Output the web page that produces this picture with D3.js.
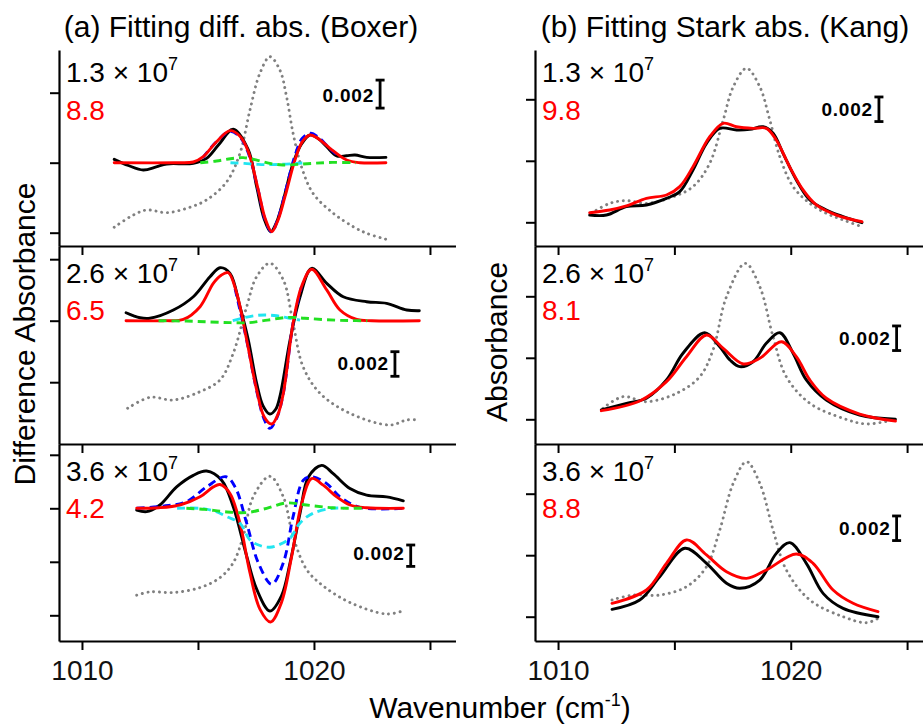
<!DOCTYPE html>
<html>
<head>
<meta charset="utf-8">
<script src="https://cdn.jsdelivr.net/npm/d3@7"></script>
<style>
  body { margin: 0; background: #fff; }
  svg { display: block; font-family: "Liberation Sans", Arial, sans-serif; }
</style>
</head>
<body>
<svg id="chart" width="923" height="724"></svg>
<script>
// ---------- data (wavenumber in cm^-1, signal in units of 0.001) ----------
const xTicks = [1010, 1015, 1020, 1025];
const xTickLabels = [1010, 1020];
const diffTicks13 = [-5, 0, 5];
const diffTicks26 = [-5, 0, 5];
const diffTicks36 = [-10, -5, 0, 5];
const absTicks = [0, 5, 10];

const fieldLabels = ["1.3 \u00d7 10", "2.6 \u00d7 10", "3.6 \u00d7 10"];
const fieldExponent = "7";
const boxerFitLabels = ["8.8", "6.5", "4.2"];
const kangFitLabels = ["9.8", "8.1", "8.8"];
const scaleBarValue = 2;        // 0.002
const scaleBarText = "0.002";

// (a) difference absorbance, field 1.3e7
const diffExp13 = [[1011.39,0.24],[1012.0,-0.2],[1012.64,-0.52],[1013.2,-0.3],[1013.65,-0.09],[1014.8,-0.04],[1015.37,0.31],[1015.9,1.3],[1016.52,2.39],[1017.17,0.91],[1017.53,-1.71],[1017.85,-4.0],[1018.13,-4.93],[1018.4,-4.2],[1018.68,-2.66],[1019.1,-0.04],[1019.45,1.3],[1019.83,1.98],[1020.2,1.7],[1020.55,1.14],[1020.98,0.48],[1021.4,0.5],[1021.77,0.55],[1022.27,0.38],[1023.1,0.38]];
const diffFit13 = [[1011.39,0],[1014.0,0],[1014.8,0.05],[1015.23,0.43],[1015.8,1.5],[1016.38,2.29],[1016.8,1.9],[1017.17,0.79],[1017.6,-1.95],[1017.9,-4.0],[1018.18,-4.93],[1018.45,-4.1],[1018.75,-2.43],[1019.18,0.19],[1019.5,1.5],[1019.83,1.98],[1020.2,1.7],[1020.69,1.03],[1021.41,0.19],[1021.98,0],[1023.1,0]];
const diffD2_13 = [[1015.2,0.35],[1015.8,1.5],[1016.38,2.25],[1016.8,1.85],[1017.17,0.7],[1017.6,-2.0],[1017.9,-4.1],[1018.18,-4.95],[1018.45,-4.0],[1018.75,-2.2],[1019.18,0.5],[1019.5,1.75],[1019.85,2.1],[1020.2,1.8],[1020.69,1.0],[1021.0,0.55]];
const diffD1_13 = [[1015.1,0],[1015.8,0.12],[1016.4,0.28],[1016.95,0.36],[1017.5,0.2],[1018.1,-0.05],[1018.66,-0.16],[1019.3,-0.12],[1020.0,-0.04],[1020.8,0.02],[1021.8,0]];
const diffD0_13 = [[1016.4,0],[1017.0,-0.05],[1017.6,-0.12],[1018.2,-0.14],[1018.8,-0.1],[1019.5,-0.02]];
const diffAbs13 = [[1011.39,-4.61],[1012.21,-3.74],[1012.79,-3.38],[1013.65,-3.57],[1014.51,-3.26],[1015.37,-2.66],[1016.24,-1.36],[1016.81,0.67],[1017.24,3.76],[1017.67,6.39],[1018.1,7.57],[1018.53,6.62],[1018.82,4.71],[1019.1,2.1],[1019.46,-0.29],[1019.96,-2.19],[1020.83,-3.61],[1021.69,-4.57],[1022.27,-5.04],[1023.1,-5.47]];

// (a) difference absorbance, field 2.6e7
const diffExp26 = [[1011.9,0.65],[1012.5,0.24],[1012.93,0.2],[1013.94,0.87],[1014.8,1.95],[1015.52,3.58],[1015.95,4.31],[1016.38,3.85],[1016.81,1.14],[1017.17,-1.57],[1017.53,-5.09],[1017.8,-6.9],[1018.1,-7.59],[1018.35,-7.2],[1018.53,-6.18],[1018.97,-1.57],[1019.4,1.95],[1019.9,4.26],[1020.55,3.04],[1021.26,1.95],[1022.27,1.54],[1023.13,1.41],[1024.0,0.87],[1024.54,0.81]];
const diffFit26 = [[1011.9,0],[1013.5,0],[1014.37,0.1],[1015.09,1.14],[1015.66,3.04],[1016.0,3.7],[1016.31,3.9],[1016.67,2.23],[1017.1,-1.57],[1017.53,-5.63],[1017.85,-7.8],[1018.18,-8.4],[1018.45,-7.6],[1018.68,-5.9],[1019.1,-0.2],[1019.46,2.76],[1019.9,4.18],[1020.55,2.5],[1021.12,0.87],[1021.84,0.1],[1022.5,0],[1024.54,0]];
const diffD2_26 = [[1016.6,2.6],[1017.1,-1.6],[1017.53,-5.7],[1017.85,-8.0],[1018.1,-8.75],[1018.4,-7.9],[1018.68,-5.9],[1019.1,-0.2],[1019.46,2.76]];
const diffD1_26 = [[1013.3,0],[1014.5,-0.03],[1015.5,-0.1],[1016.4,-0.16],[1017.2,-0.16],[1018.0,0.05],[1018.9,0.27],[1019.6,0.2],[1020.5,0.08],[1021.5,0.01],[1022.3,0]];
const diffD0_26 = [[1016.5,0],[1017.0,0.25],[1017.5,0.42],[1017.9,0.46],[1018.4,0.4],[1018.9,0.22],[1019.4,0.05]];
const diffAbs26 = [[1011.97,-7.12],[1012.93,-6.23],[1013.94,-6.45],[1015.09,-5.77],[1015.95,-4.82],[1016.52,-2.65],[1017.1,1.14],[1017.53,3.58],[1018.1,4.67],[1018.68,3.31],[1019.1,-0.21],[1019.53,-3.74],[1020.26,-5.9],[1021.55,-7.53],[1023.28,-8.48],[1024.0,-8.07],[1024.54,-8.07]];

// (a) difference absorbance, field 3.6e7
const diffExp36 = [[1012.36,-0.16],[1012.79,-0.31],[1013.36,0.31],[1014.08,2.0],[1014.8,3.08],[1015.37,3.48],[1016.02,2.62],[1016.52,0.15],[1017.1,-4.48],[1017.53,-7.56],[1018.1,-9.6],[1018.6,-8.18],[1018.97,-5.09],[1019.4,-0.46],[1019.76,2.93],[1020.33,4.01],[1020.83,3.24],[1021.55,1.85],[1022.27,1.23],[1023.13,1.07],[1023.85,0.7]];
const diffFit36 = [[1012.36,0],[1013.3,0.05],[1014.22,0.31],[1015.09,1.07],[1015.66,2.0],[1015.95,2.22],[1016.38,1.39],[1016.81,-1.39],[1017.24,-6.02],[1017.67,-9.42],[1018.13,-10.62],[1018.6,-8.8],[1019.04,-4.48],[1019.47,0.46],[1019.9,2.78],[1020.4,2.16],[1020.98,1.07],[1021.55,0.31],[1022.27,0.05],[1023.85,0]];
const diffD2_36 = [[1012.36,0],[1013.5,0.2],[1014.5,0.61],[1015.37,2.0],[1016.2,2.95],[1016.6,2.0],[1017.1,-1.39],[1017.6,-5.09],[1018.18,-7.1],[1018.68,-5.09],[1019.1,-0.78],[1019.54,2.62],[1019.9,2.95],[1020.55,2.31],[1021.12,1.07],[1021.98,0.09],[1023.85,0]];
const diffD1_36 = [[1014.5,0],[1015.3,-0.1],[1016.1,-0.31],[1017.1,-0.4],[1017.96,0],[1018.82,0.5],[1019.68,0.31],[1020.8,0.05],[1022.2,0]];
const diffD0_36 = [[1014.1,0],[1015.08,0],[1015.7,-0.25],[1016.24,-0.78],[1016.81,-1.4],[1017.24,-2.96],[1017.7,-3.5],[1018.1,-3.64],[1018.5,-3.4],[1018.97,-2.8],[1019.4,-1.37],[1019.95,-0.47],[1020.8,0],[1021.3,0]];
const diffAbs36 = [[1012.36,-8.12],[1012.93,-7.81],[1013.94,-7.87],[1015.09,-7.41],[1015.95,-6.48],[1016.52,-5.09],[1016.95,-2.63],[1017.38,1.07],[1018.1,2.99],[1018.68,1.07],[1019.1,-2.63],[1019.68,-5.71],[1020.4,-7.26],[1021.55,-8.8],[1023.13,-9.88],[1023.85,-9.57]];

// (b) Stark absorbance
const starkExp13 = [[1011.36,0.59],[1012.08,0.59],[1012.94,1.27],[1013.8,1.41],[1014.66,1.95],[1015.23,2.49],[1015.8,4.25],[1016.38,6.42],[1016.95,7.64],[1017.67,7.5],[1018.24,7.55],[1018.81,7.77],[1019.24,7.24],[1019.67,5.61],[1020.24,3.44],[1020.82,1.81],[1021.53,1.0],[1022.25,0.46],[1023.06,-0.03]];
const starkFit13 = [[1011.36,0.78],[1012.22,1.0],[1012.94,1.33],[1013.8,1.95],[1014.66,2.22],[1015.23,2.9],[1015.8,4.52],[1016.52,6.96],[1017.1,8.05],[1017.67,7.77],[1018.38,7.64],[1018.95,7.64],[1019.38,6.69],[1019.95,4.52],[1020.53,2.63],[1021.1,1.41],[1021.96,0.59],[1023.06,0.05]];
const starkAbs13 = [[1011.43,0.73],[1012.22,1.54],[1012.94,1.76],[1013.8,1.54],[1014.95,2.08],[1015.8,2.9],[1016.52,4.8],[1017.1,8.32],[1017.53,11.02],[1018.1,12.52],[1018.67,11.02],[1019.1,8.32],[1019.53,5.33],[1020.1,2.9],[1020.82,1.54],[1021.53,0.73],[1022.25,0.19],[1023.06,-0.36]];

const starkExp26 = [[1011.86,0.76],[1012.94,1.3],[1013.8,1.71],[1014.66,3.2],[1015.37,5.37],[1016.3,7.04],[1016.95,5.9],[1017.4,4.8],[1017.81,4.28],[1018.38,4.68],[1018.95,6.18],[1019.53,7.04],[1020.1,5.37],[1020.67,3.2],[1021.53,1.57],[1022.96,0.35],[1024.5,0]];
const starkFit26 = [[1011.86,0.7],[1013.51,1.49],[1014.66,3.06],[1015.52,5.09],[1016.38,6.85],[1017.1,5.77],[1017.96,4.5],[1018.67,4.96],[1019.6,6.31],[1020.24,5.09],[1020.82,3.2],[1021.53,1.71],[1022.96,0.43],[1024.5,-0.14]];
const starkAbs26 = [[1011.93,0.89],[1012.79,1.84],[1013.8,1.43],[1015.09,2.11],[1016.09,3.46],[1016.66,5.63],[1017.24,9.97],[1018.05,12.68],[1018.67,10.78],[1019.24,6.72],[1019.81,3.46],[1020.82,1.3],[1022.25,0.08],[1023.26,-0.38],[1024.5,0]];

const starkExp36 = [[1012.32,0.6],[1013.51,1.36],[1014.37,3.25],[1015.45,5.56],[1016.38,4.34],[1017.24,2.72],[1017.81,2.31],[1018.67,2.98],[1019.38,5.15],[1019.96,6.02],[1020.67,4.34],[1021.39,1.9],[1022.25,0.68],[1023.75,0]];
const starkFit36 = [[1012.32,1.09],[1013.8,2.17],[1014.66,4.34],[1015.52,6.24],[1016.38,5.02],[1017.24,3.66],[1018.1,3.12],[1018.95,3.8],[1020.24,5.1],[1020.96,4.34],[1021.82,2.17],[1022.68,1.09],[1023.75,0.41]];
const starkAbs36 = [[1012.32,1.36],[1013.22,1.76],[1014.37,1.76],[1015.52,2.44],[1016.38,4.07],[1016.95,7.05],[1017.53,10.85],[1018.1,12.6],[1018.67,10.85],[1019.24,7.05],[1019.81,3.8],[1020.82,1.36],[1022.25,0],[1023.26,-0.49],[1023.75,-0.13]];

// ---------- layout ----------
const svg = d3.select("#chart");
const xDomain = [1009.01, 1026.1];
const colA = { x0: 59, pxPerUnit: 23.2 };
const colB = { x0: 535, pxPerUnit: 23.27 };
const rows = [ { top: 50, bottom: 246 }, { top: 246, bottom: 444 }, { top: 444, bottom: 641 } ];

const styles = {
  abs:  { color: "#808080", width: 2.9, dash: "0.1,5.7", cap: "round" },
  d1:   { color: "#22e022", width: 2.9, dash: "8,5", cap: "butt" },
  d0:   { color: "#22e5f0", width: 2.9, dash: "8,5", cap: "butt" },
  exp:  { color: "#000000", width: 2.9, dash: null, cap: "round" },
  d2:   { color: "#0000ff", width: 2.9, dash: "8,5", cap: "butt" },
  fit:  { color: "#ff0000", width: 2.9, dash: null, cap: "round" }
};

const panels = [
  { col: colA, row: 0, zero: 162.7, k: 14.0, ticks: diffTicks13, field: 0, fit: boxerFitLabels[0],
    curves: { abs: diffAbs13, exp: diffExp13, d2: diffD2_13, fit: diffFit13, d0: diffD0_13, d1: diffD1_13 }, bar: [1022.85, 5.9] },
  { col: colA, row: 1, zero: 320.7, k: 12.3, ticks: diffTicks26, field: 1, fit: boxerFitLabels[1],
    curves: { abs: diffAbs26, exp: diffExp26, d2: diffD2_26, fit: diffFit26, d0: diffD0_26, d1: diffD1_26 }, bar: [1023.49, -2.52] },
  { col: colA, row: 2, zero: 508.3, k: 10.7, ticks: diffTicks36, field: 2, fit: boxerFitLabels[2],
    curves: { abs: diffAbs36, exp: diffExp36, d2: diffD2_36, fit: diffFit36, d0: diffD0_36, d1: diffD1_36 }, bar: [1024.17, -3.43] },
  { col: colB, row: 0, zero: 222.3, k: 12.3, ticks: absTicks, field: 0, fit: kangFitLabels[0],
    curves: { abs: starkAbs13, exp: starkExp13, fit: starkFit13 }, bar: [1023.79, 10.19] },
  { col: colB, row: 1, zero: 419.3, k: 12.3, ticks: absTicks, field: 1, fit: kangFitLabels[1],
    curves: { abs: starkAbs26, exp: starkExp26, fit: starkFit26 }, bar: [1024.55, 7.59] },
  { col: colB, row: 2, zero: 616.7, k: 12.3, ticks: absTicks, field: 2, fit: kangFitLabels[2],
    curves: { abs: starkAbs36, exp: starkExp36, fit: starkFit36 }, bar: [1024.55, 8.19] }
];

const drawOrder = ["abs", "exp", "d2", "fit", "d0", "d1"];

panels.forEach(p => {
  const r = rows[p.row];
  const x = d3.scaleLinear().domain(xDomain)
    .range([p.col.x0, p.col.x0 + (xDomain[1] - xDomain[0]) * p.col.pxPerUnit]);
  const y = d3.scaleLinear()
    .domain([-(r.bottom - p.zero) / p.k, (p.zero - r.top) / p.k])
    .range([r.bottom, r.top]);

  const g = svg.append("g");

  // axes
  const isLast = p.row === 2;
  const xAxis = d3.axisBottom(x).tickValues(xTicks).tickSizeInner(9).tickSizeOuter(0)
    .tickFormat(d => (isLast && xTickLabels.includes(d)) ? d : "");
  const gx = g.append("g").attr("transform", `translate(0,${r.bottom})`).call(xAxis);
  const yAxis = d3.axisLeft(y).tickValues(p.ticks).tickSizeInner(9).tickSizeOuter(0).tickFormat("");
  const gy = g.append("g").attr("transform", `translate(${p.col.x0},0)`).call(yAxis);
  [gx, gy].forEach(a => {
    a.select(".domain").attr("stroke", "#000").attr("stroke-width", 2.2);
    a.selectAll(".tick line").attr("stroke", "#000").attr("stroke-width", 2);
    a.selectAll(".tick text").attr("font-size", 28).attr("fill", "#111")
      .attr("font-family", '"Liberation Sans", Arial, sans-serif').attr("dy", "0.98em");
  });

  // curves
  const line = d3.line().x(d => x(d[0])).y(d => y(d[1])).curve(d3.curveCatmullRom.alpha(0.5));
  drawOrder.forEach(key => {
    const data = p.curves[key];
    if (!data) return;
    const s = styles[key];
    g.append("path").datum(data).attr("d", line)
      .attr("fill", "none").attr("stroke", s.color).attr("stroke-width", s.width)
      .attr("stroke-linecap", s.cap).attr("stroke-linejoin", "round")
      .attr("stroke-dasharray", s.dash);
  });

  // field strength and fit labels
  const tx = p.col.x0 + 7;
  const t = g.append("text").attr("x", tx).attr("y", r.top + (p.row === 0 ? 32 : 37))
    .attr("font-size", 28).attr("fill", "#000");
  t.append("tspan").text(fieldLabels[p.field]);
  t.append("tspan").attr("font-size", 18).attr("dy", -12).text(fieldExponent);
  g.append("text").attr("x", tx).attr("y", r.top + (p.row === 0 ? 70 : 74))
    .attr("font-size", 28).attr("fill", "#ff0000").text(p.fit);

  // 0.002 scale bar
  const bx = x(p.bar[0]), by0 = y(p.bar[1]), by1 = y(p.bar[1] - scaleBarValue);
  const bar = g.append("g").attr("stroke", "#000").attr("stroke-width", 2.8);
  bar.append("line").attr("x1", bx).attr("x2", bx).attr("y1", by0).attr("y2", by1);
  bar.append("line").attr("x1", bx - 4.5).attr("x2", bx + 4.5).attr("y1", by0).attr("y2", by0);
  bar.append("line").attr("x1", bx - 4.5).attr("x2", bx + 4.5).attr("y1", by1).attr("y2", by1);
  g.append("text").attr("x", bx - 6).attr("y", by1 - 6).attr("text-anchor", "end")
    .attr("font-size", 19).attr("font-weight", "bold").attr("letter-spacing", 0.8)
    .text(scaleBarText);
});

// titles
svg.append("text").attr("x", 241).attr("y", 37).attr("text-anchor", "middle")
  .attr("font-size", 30).text("(a) Fitting diff. abs. (Boxer)");
svg.append("text").attr("x", 725).attr("y", 37).attr("text-anchor", "middle")
  .attr("font-size", 30).text("(b) Fitting Stark abs. (Kang)");

// axis titles
svg.append("text").attr("transform", "translate(35,334) rotate(-90)").attr("text-anchor", "middle")
  .attr("font-size", 30).text("Difference Absorbance");
svg.append("text").attr("transform", "translate(507,342) rotate(-90)").attr("text-anchor", "middle")
  .attr("font-size", 30).text("Absorbance");
const xt = svg.append("text").attr("x", 500).attr("y", 718).attr("text-anchor", "middle").attr("font-size", 30);
xt.append("tspan").text("Wavenumber (cm");
xt.append("tspan").attr("font-size", 18).attr("dy", -12).text("-1");
xt.append("tspan").attr("dy", 12).text(")");
</script>
</body>
</html>
